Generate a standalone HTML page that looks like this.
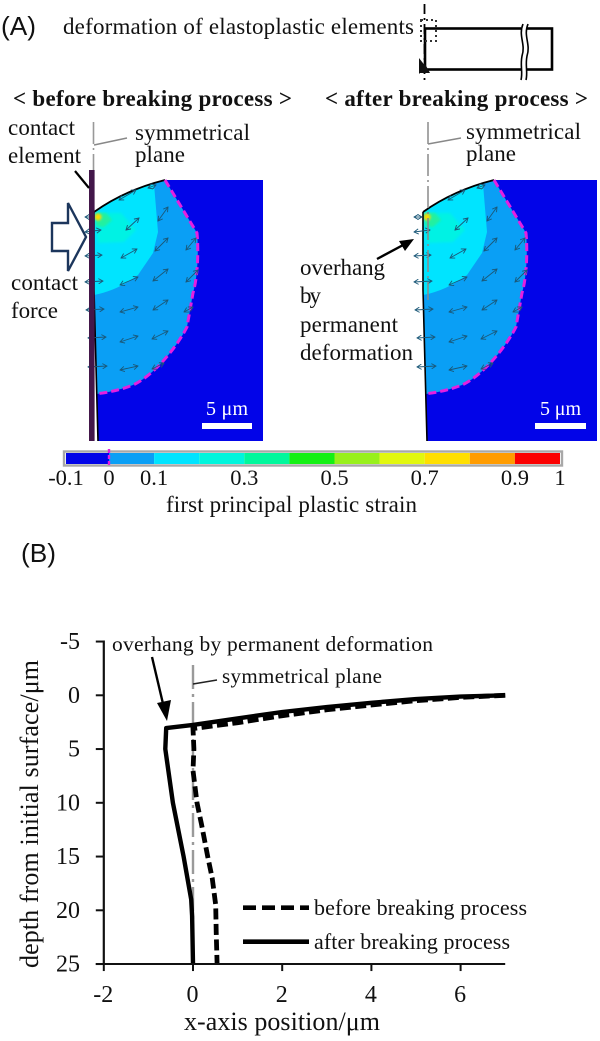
<!DOCTYPE html>
<html lang="en">
<head>
<meta charset="utf-8">
<title>Deformation of elastoplastic elements</title>
<style>
html,body{margin:0;padding:0;background:#fff;width:600px;height:1041px;overflow:hidden}
svg{display:block;filter:blur(0.35px)}
text{font-family:"Liberation Serif",serif;fill:#111;font-size:23px}
.sans{font-family:"Liberation Sans",sans-serif;font-size:26px}
.arrow{stroke:#1b5878;stroke-width:.9;fill:none;marker-start:url(#tip);marker-end:url(#tip)}
</style>
</head>
<body>
<svg id="fig" width="600" height="1041" viewBox="0 0 600 1041" xmlns="http://www.w3.org/2000/svg">
<defs>
<marker id="tip" viewBox="0 0 8 8" refX="7" refY="4" markerWidth="6" markerHeight="6" markerUnits="userSpaceOnUse" orient="auto-start-reverse"><path d="M1,0.5 L7,4 L1,7.5" fill="none" stroke="#1b5878" stroke-width="1.2"/></marker>
<filter id="soft" x="-30%" y="-30%" width="160%" height="160%"><feGaussianBlur stdDeviation="1.2"/></filter>
<clipPath id="fe-clip"><path d="M94,212 Q125,190 165,180 L270,180 L270,441 L98,441 L97,394 L94,290Z"/></clipPath>
<g id="fe-contours">
  <path d="M94,212 Q125,190 165,180 L197,233 C199,255 197,280 193,293 L187,327 C178,345 155,375 133,385 C120,390 110,392 97,394 L94,290Z" fill="#0a9ff5"/>
  <path d="M94,212 Q125,190 154,184 L158,232 L153,253 L138,275 C125,285 110,292 94,295Z" fill="#00e4ff"/>
  <path d="M95,213 L121,213 L136,230 L124,242 L98,243Z" fill="#00f2e4" filter="url(#soft)" clip-path="url(#fe-clip)"/>
  <path d="M96,213 L106,213 L112,220 L104,227 L96,226Z" fill="#20f0a0" filter="url(#soft)" clip-path="url(#fe-clip)"/>
  <circle cx="98" cy="217" r="3.6" fill="#ffd800" filter="url(#soft)"/>
  <path d="M94,212 Q125,190 165,180" fill="none" stroke="#000" stroke-width="1.8"/>
  <path d="M94,212 L94,290 L98,441" fill="none" stroke="#000" stroke-width="1.6"/>
  <path d="M165,180 L197,233 C199,255 197,280 193,293 L187,327 C178,345 155,375 133,385 C120,390 110,392 99,393.5" fill="none" stroke="#e51fe0" stroke-width="3" stroke-dasharray="8 4"/>
  <g>
    <line class="arrow" x1="126" y1="230" x2="139" y2="218"/><line class="arrow" x1="158" y1="221" x2="168" y2="207"/>
    <line class="arrow" x1="121" y1="258" x2="137" y2="249"/><line class="arrow" x1="155" y1="251" x2="168" y2="238"/>
    <line class="arrow" x1="186" y1="250" x2="196" y2="238"/><line class="arrow" x1="120" y1="285" x2="138" y2="277"/>
    <line class="arrow" x1="153" y1="281" x2="168" y2="269"/><line class="arrow" x1="186" y1="282" x2="198" y2="270"/>
    <line class="arrow" x1="85" y1="217" x2="93" y2="217"/><line class="arrow" x1="85" y1="232" x2="101" y2="230"/>
    <line class="arrow" x1="85" y1="256" x2="102" y2="255"/><line class="arrow" x1="85" y1="282" x2="103" y2="281"/>
    <line class="arrow" x1="86" y1="310" x2="104" y2="309"/><line class="arrow" x1="120" y1="312" x2="138" y2="307"/>
    <line class="arrow" x1="153" y1="310" x2="168" y2="300"/><line class="arrow" x1="184" y1="312" x2="193" y2="307"/>
    <line class="arrow" x1="88" y1="338" x2="106" y2="337"/><line class="arrow" x1="120" y1="342" x2="138" y2="336"/>
    <line class="arrow" x1="152" y1="339" x2="168" y2="331"/><line class="arrow" x1="88" y1="367" x2="107" y2="366"/>
    <line class="arrow" x1="120" y1="370" x2="138" y2="366"/><line class="arrow" x1="152" y1="369" x2="164" y2="363"/>
    <line class="arrow" x1="119" y1="200" x2="136" y2="190"/><line class="arrow" x1="148" y1="188" x2="156" y2="185"/>
  </g>
</g>
</defs>

<rect width="600" height="1041" fill="#fff"/>

<text class="sans" x="1" y="35" textLength="35" lengthAdjust="spacingAndGlyphs">(A)</text>
<text x="63" y="34" textLength="351">deformation of elastoplastic elements</text>

<g>
  <rect x="425" y="28.5" width="127" height="41" fill="none" stroke="#000" stroke-width="2.6"/>
  <rect x="521" y="24" width="6" height="50" fill="#fff"/>
  <path d="M523,24 C518,36 526,44 522,56 C520,66 523,72 521,80" fill="none" stroke="#000" stroke-width="1.6"/>
  <path d="M528,24 C523,36 531,44 527,56 C525,66 528,72 526,80" fill="none" stroke="#000" stroke-width="1.6"/>
  <line x1="424.5" y1="4" x2="424.5" y2="83" stroke="#000" stroke-width="1.8" stroke-dasharray="10 4 2 4"/>
  <rect x="421" y="20" width="15" height="21" fill="none" stroke="#333" stroke-width="2" stroke-dasharray="2 3"/>
  <path d="M419,58 L426,67 L419,74Z" fill="#111"/>
  <path d="M424.5,63 L430,73 L419,73Z" fill="#111"/>
</g>

<text x="13" y="106" textLength="279" style="font-weight:700">&lt; before breaking process &gt;</text>
<text x="325" y="106" textLength="263" style="font-weight:700">&lt; after breaking process &gt;</text>

<!-- left FE panel -->
<g>
  <path d="M94,212 Q125,190 165,180 L263,180 L263,441 L98,441 L97,394 L94,290Z" fill="#0204e8"/>
  <use href="#fe-contours"/>
  <rect x="89" y="170" width="5.6" height="271" fill="#43174a"/>
  <line x1="93.5" y1="122" x2="93.5" y2="170" stroke="#999" stroke-width="1.6" stroke-dasharray="22 4 2 4"/>
  <line x1="94" y1="145" x2="127" y2="138" stroke="#888" stroke-width="1.5"/>
  <line x1="75" y1="171" x2="89" y2="188" stroke="#000" stroke-width="2.2"/>
  <polygon points="52,223 68,223 68,203 86,237 68,271 68,251 52,251" fill="#fff" stroke="#1c365c" stroke-width="2.4"/>
  <rect x="202" y="423" width="50" height="6" fill="#fff"/>
  <text x="206" y="415" textLength="42" style="fill:#fff;font-size:20px">5 μm</text>
</g>
<text x="8" y="135" textLength="67">contact</text>
<text x="8" y="163" textLength="73">element</text>
<text x="135" y="140" textLength="115">symmetrical</text>
<text x="135" y="162" textLength="50">plane</text>
<text x="11" y="290" textLength="67">contact</text>
<text x="11" y="318" textLength="47">force</text>

<!-- right FE panel -->
<g>
  <path d="M423,212 Q454,190 494,180 L597,180 L597,441 L427,441 L426,394 L423,290Z" fill="#0204e8"/>
  <use href="#fe-contours" x="329"/>
  <line x1="428" y1="122" x2="428" y2="300" stroke="#8a8a8a" stroke-width="1.5" stroke-dasharray="22 4 2 4"/>
  <line x1="428" y1="144" x2="461" y2="138" stroke="#888" stroke-width="1.5"/>
  <line x1="377" y1="259" x2="405" y2="244" stroke="#000" stroke-width="2.4"/>
  <polygon points="414,239 399,241 405,251" fill="#000"/>
  <rect x="535" y="423" width="51" height="6" fill="#fff"/>
  <text x="540" y="415" textLength="41" style="fill:#fff;font-size:20px">5 μm</text>
</g>
<text x="466" y="139" textLength="115">symmetrical</text>
<text x="466" y="161" textLength="50">plane</text>
<text x="300" y="275" textLength="85">overhang</text>
<text x="300" y="303" textLength="21">by</text>
<text x="300" y="332" textLength="98">permanent</text>
<text x="300" y="360" textLength="113">deformation</text>

<!-- colorbar -->
<g id="colorbar">
  <rect x="64" y="451.5" width="498" height="14" fill="none" stroke="#a8a8a8" stroke-width="2.4"/>
</g>
<text x="166" y="512" textLength="251">first principal plastic strain</text>

<text class="sans" x="21" y="562" textLength="35" lengthAdjust="spacingAndGlyphs">(B)</text>

<!-- chart -->
<g id="chart"></g>
<text x="112" y="651" textLength="321" style="font-size:21.5px">overhang by permanent deformation</text>
<text x="222" y="683" textLength="160" style="font-size:21px">symmetrical plane</text>
<text x="184" y="1030" textLength="196" style="font-size:26px">x-axis position/μm</text>
<text transform="translate(38,968) rotate(-90)" x="0" y="0" textLength="308" style="font-size:26px">depth from initial surface/μm</text>
<text x="314" y="915" textLength="213" style="font-size:22px">before breaking process</text>
<text x="314" y="949" textLength="196" style="font-size:22px">after breaking process</text>

<script>
const xTicks = [-2, 0, 2, 4, 6];
const yTicks = [-5, 0, 5, 10, 15, 20, 25];
const beforeX = [7, 6, 5, 4, 3, 2, 1, 0, 0.02, 0, 0.09, 0.19, 0.33, 0.43, 0.51, 0.52, 0.54];
const beforeY = [0, 0.2, 0.5, 0.9, 1.35, 1.9, 2.55, 3.1, 5, 7, 10, 12, 15, 17, 19.5, 22, 25];
const afterX = [7, 6, 5, 4, 3, 2, 1, 0, -0.6, -0.62, -0.45, -0.21, -0.04, -0.02, 0];
const afterY = [0, 0.12, 0.35, 0.7, 1.1, 1.55, 2.15, 2.75, 3.05, 5, 10, 15, 19, 20.5, 25];
const colorStops = [-0.1, 0, 0.1, 0.2, 0.3, 0.4, 0.5, 0.6, 0.7, 0.8, 0.9, 1];
const colorFills = ['#0204e8', '#0a9ff5', '#00e4ff', '#00f5dc', '#00f79c', '#14f014', '#98f01c', '#e2f70e', '#ffdf00', '#ff9c00', '#fb0000'];
const colorLabels = ['-0.1', '0', '0.1', '0.3', '0.5', '0.7', '0.9', '1'];

const NS = 'http://www.w3.org/2000/svg';
const sx = v => 193 + v * 44.6;
const sy = v => 695.3 + v * 10.75;
const cb = v => v < 0 ? 109 + v * 430 : 109 + v * 451;
const chart = document.getElementById('chart');
const bar = document.getElementById('colorbar');

function node(tag, parent, attrs) {
  const el = document.createElementNS(NS, tag);
  for (const k in attrs) el.setAttribute(k, attrs[k]);
  parent.appendChild(el);
  return el;
}
function pathOf(xs, ys) {
  return xs.map((v, i) => (i ? 'L' : 'M') + sx(v).toFixed(1) + ',' + sy(ys[i]).toFixed(1)).join(' ');
}

colorFills.forEach((fill, i) => {
  const seg = node('rect', bar, {x: cb(colorStops[i]), y: 453, width: cb(colorStops[i + 1]) - cb(colorStops[i]), height: 11, fill: fill});
  
  
});
const zero = node('line', bar, {x1: cb(0), x2: cb(0), y1: 449, y2: 467, stroke: '#e51fe0', 'stroke-width': 2.4, 'stroke-dasharray': '4 2'});


colorLabels.forEach(label => {
  const t = node('text', bar, {x: cb(parseFloat(label)), y: 485, 'text-anchor': 'middle', style: 'font-size:22.5px'});
  t.textContent = label;
  
  
});

const plane = node('line', chart, {x1: sx(0), x2: sx(0), y1: 665, y2: sy(25), stroke: '#9a9a9a', 'stroke-width': 2.4, 'stroke-dasharray': '24 5 3 5'});


const leader = node('line', chart, {x1: 193, y1: 684, x2: 217, y2: 680, stroke: '#222', 'stroke-width': 1.4});



const beforeLine = node('path', chart, {d: pathOf(beforeX, beforeY), fill: 'none', stroke: '#000', 'stroke-width': 4.8, 'stroke-dasharray': '11 4.5'});


const afterLine = node('path', chart, {d: pathOf(afterX, afterY), fill: 'none', stroke: '#000', 'stroke-width': 4.4, 'stroke-linejoin': 'round'});



const yAxis = node('line', chart, {x1: sx(-2), x2: sx(-2), y1: sy(-5) - 1, y2: sy(25) + 1, stroke: '#111', 'stroke-width': 2.2});


const xAxis = node('line', chart, {x1: sx(-2) - 8, x2: sx(7), y1: sy(25), y2: sy(25), stroke: '#111', 'stroke-width': 2});



yTicks.forEach(v => {
  const tick = node('line', chart, {x1: sx(-2) - 8, x2: sx(-2), y1: sy(v), y2: sy(v), stroke: '#111', 'stroke-width': 2});
  
  
  const t = node('text', chart, {x: 80, y: sy(v) + 7.5, 'text-anchor': 'end', style: 'font-size:24px'});
  t.textContent = v;
  
  
});
xTicks.forEach(v => {
  const tick = node('line', chart, {x1: sx(v), x2: sx(v), y1: sy(25), y2: sy(25) + 7, stroke: '#111', 'stroke-width': 2});
  
  
  const t = node('text', chart, {x: sx(v) - 0.5, y: 1002, 'text-anchor': 'middle', style: 'font-size:24px'});
  t.textContent = v;
  
  
});

const arrowLine = node('line', chart, {x1: 152, y1: 657, x2: 164, y2: 708, stroke: '#000', 'stroke-width': 2.4});


const arrowHead = node('polygon', chart, {points: '167,721 157,703 171,700', fill: '#000'});



const legendBefore = node('line', chart, {x1: 243, x2: 309, y1: 907.7, y2: 907.7, stroke: '#000', 'stroke-width': 4.6, 'stroke-dasharray': '13 6'});


const legendAfter = node('line', chart, {x1: 243, x2: 309, y1: 941.7, y2: 941.7, stroke: '#000', 'stroke-width': 4.6});


</script>
</svg>
</body>
</html>
